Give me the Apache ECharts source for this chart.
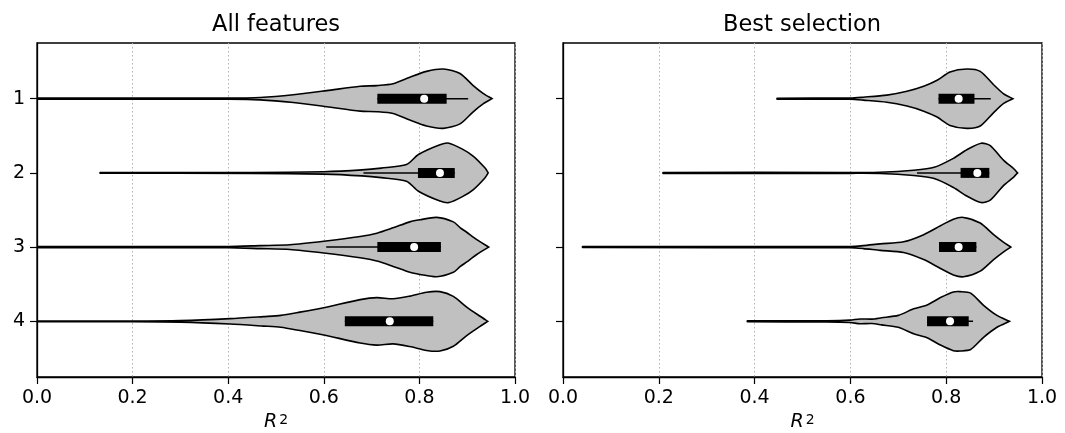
<!DOCTYPE html>
<html>
<head>
<meta charset="utf-8">
<script src="https://cdn.jsdelivr.net/npm/echarts@6/dist/echarts.min.js"></script>
<style>
  html, body { margin: 0; padding: 0; background: #fff; }
  #main { width: 1065px; height: 433px; }
</style>
</head>
<body>
<div id="main"></div>
<script>
// categories (one violin per row) and x ticks
var categories = [1, 2, 3, 4];
var xTicks = [0, 0.2, 0.4, 0.6, 0.8, 1.0];
var panelTitles = ['All features', 'Best selection'];

// violin outlines: [R2 value, relative half width]
var allFeatDensity = [
  [[-0.02,0.02],[0.40,0.02],[0.467,0.04],[0.536,0.13],[0.606,0.27],[0.676,0.42],[0.711,0.44],[0.745,0.5],[0.78,0.72],[0.815,0.92],[0.85,1.0],[0.885,0.85],[0.912,0.45],[0.934,0.17],[0.952,0]],
  [[0.132,0.01],[0.45,0.015],[0.60,0.04],[0.68,0.1],[0.72,0.16],[0.773,0.28],[0.798,0.62],[0.843,0.95],[0.862,1.0],[0.89,0.8],[0.913,0.56],[0.937,0.17],[0.944,0]],
  [[-0.02,0.02],[0.40,0.02],[0.467,0.05],[0.529,0.08],[0.6,0.2],[0.676,0.36],[0.711,0.47],[0.745,0.65],[0.78,0.85],[0.801,0.92],[0.836,1.0],[0.871,0.85],[0.885,0.66],[0.899,0.5],[0.92,0.25],[0.945,0]],
  [[-0.02,0.01],[0.2,0.01],[0.30,0.025],[0.404,0.09],[0.474,0.16],[0.51,0.2],[0.55,0.31],[0.60,0.46],[0.676,0.73],[0.711,0.80],[0.745,0.76],[0.78,0.85],[0.815,0.98],[0.843,1.0],[0.871,0.84],[0.899,0.48],[0.927,0.17],[0.943,0]]
];
var bestSelDensity = [
  [[0.447,0.015],[0.60,0.02],[0.627,0.05],[0.676,0.12],[0.718,0.25],[0.753,0.42],[0.781,0.62],[0.808,0.9],[0.843,1.0],[0.871,0.92],[0.899,0.47],[0.92,0.16],[0.939,0]],
  [[0.209,0.015],[0.60,0.015],[0.662,0.02],[0.732,0.09],[0.775,0.19],[0.815,0.49],[0.843,0.78],[0.873,1.0],[0.892,0.92],[0.92,0.42],[0.941,0.14],[0.949,0]],
  [[0.041,0.015],[0.60,0.02],[0.627,0.05],[0.662,0.11],[0.711,0.18],[0.753,0.42],[0.788,0.72],[0.815,0.94],[0.836,1.0],[0.871,0.81],[0.899,0.42],[0.92,0.16],[0.935,0]],
  [[0.385,0.015],[0.55,0.02],[0.599,0.04],[0.62,0.08],[0.645,0.075],[0.665,0.12],[0.70,0.2],[0.732,0.42],[0.76,0.55],[0.788,0.8],[0.815,0.99],[0.829,1.0],[0.851,0.95],[0.878,0.54],[0.906,0.2],[0.932,0]]
];

// inner box: quartiles, median, whisker ends
var allFeatQ1 = [0.712, 0.797, 0.712, 0.644];
var allFeatMedian = [0.810, 0.843, 0.789, 0.738];
var allFeatQ3 = [0.857, 0.874, 0.845, 0.829];
var allFeatWhiskLo = [0.712, 0.683, 0.605, 0.644];
var allFeatWhiskHi = [0.902, 0.874, 0.845, 0.829];

var bestSelQ1 = [0.784, 0.830, 0.785, 0.760];
var bestSelMedian = [0.826, 0.865, 0.826, 0.808];
var bestSelQ3 = [0.859, 0.890, 0.863, 0.847];
var bestSelWhiskLo = [0.784, 0.739, 0.785, 0.760];
var bestSelWhiskHi = [0.893, 0.890, 0.863, 0.856];

var chart = echarts.init(document.getElementById('main'));
var font = 'DejaVu Sans';
var halfMax = 0.4; // seaborn width 0.8

function violinSeries(idx, dens, q1, med, q3, lo, hi) {
  return {
    type: 'custom',
    xAxisIndex: idx,
    yAxisIndex: idx,
    clip: true,
    data: categories.map(function (c, i) { return [med[i], c]; }),
    renderItem: function (params, api) {
      var i = params.dataIndex;
      var cat = categories[i];
      var prof = dens[i];
      var pts = [];
      prof.forEach(function (p) { pts.push(api.coord([p[0], cat - halfMax * p[1]])); });
      prof.slice().reverse().forEach(function (p) { pts.push(api.coord([p[0], cat + halfMax * p[1]])); });
      var a = api.coord([q1[i], cat]);
      var b = api.coord([q3[i], cat]);
      var wl = api.coord([lo[i], cat]);
      var wh = api.coord([hi[i], cat]);
      var m = api.coord([med[i], cat]);
      return {
        type: 'group',
        children: [
          { type: 'polygon', shape: { points: pts, smooth: 0.25 },
            style: { fill: '#c0c0c0', stroke: '#000', lineWidth: 1.6 } },
          { type: 'line', shape: { x1: wl[0], y1: wl[1], x2: wh[0], y2: wh[1] },
            style: { stroke: '#000', lineWidth: 1.5 } },
          { type: 'rect', shape: { x: a[0], y: a[1] - 5, width: b[0] - a[0], height: 10 },
            style: { fill: '#000' } },
          { type: 'circle', shape: { cx: m[0], cy: m[1], r: 4 },
            style: { fill: '#fff' } }
        ]
      };
    }
  };
}

function xAx(idx) {
  return {
    gridIndex: idx, type: 'value', min: 0, max: 1, interval: 0.2,
    axisLine: { show: true, lineStyle: { color: '#000', width: 1.3 } },
    axisTick: { show: true, length: 7, lineStyle: { color: '#000', width: 1.2 } },
    axisLabel: { fontSize: 19, color: '#000', fontFamily: font, margin: 12,
      formatter: function (v) { return v.toFixed(1); } },
    splitLine: { show: true, lineStyle: { color: '#b0b0b0', type: [1.5, 2.5], width: 1 } },
    name: '{i|R}{s|2}', nameLocation: 'middle', nameGap: 33,
    nameTextStyle: { color: '#000', fontFamily: font, fontSize: 19,
      rich: { i: { fontStyle: 'italic', fontSize: 19, fontFamily: font, color: '#000' },
              s: { fontSize: 14, fontFamily: font, color: '#000', verticalAlign: 'top', padding: [0, 0, 0, 2] } } }
  };
}

function yAx(idx, showLabels) {
  return {
    gridIndex: idx, type: 'value', min: 0.25, max: 4.75, inverse: true,
    axisLine: { show: true, lineStyle: { color: '#000', width: 1.3 } },
    axisTick: { show: true, length: 7, customValues: categories, lineStyle: { color: '#000', width: 1.2 } },
    axisLabel: { show: showLabels, customValues: categories, fontSize: 19, color: '#000', fontFamily: font, margin: 12 },
    splitLine: { show: false }
  };
}

var option = {
  animation: false,
  backgroundColor: '#fff',
  title: [
    { text: panelTitles[0], left: 276, top: 14, textAlign: 'center', padding: 0,
      textStyle: { fontSize: 22.5, fontWeight: 'normal', fontFamily: font, color: '#000' } },
    { text: panelTitles[1], left: 802, top: 14, textAlign: 'center', padding: 0,
      textStyle: { fontSize: 22.5, fontWeight: 'normal', fontFamily: font, color: '#000' } }
  ],
  grid: [
    { left: 37, top: 43, width: 478, height: 334, show: true, borderColor: '#000', borderWidth: 1.3,
      outerBoundsMode: 'none', containLabel: false },
    { left: 563, top: 43, width: 479, height: 334, show: true, borderColor: '#000', borderWidth: 1.3,
      outerBoundsMode: 'none', containLabel: false }
  ],
  xAxis: [xAx(0), xAx(1)],
  yAxis: [yAx(0, true), yAx(1, false)],
  series: [
    violinSeries(0, allFeatDensity, allFeatQ1, allFeatMedian, allFeatQ3, allFeatWhiskLo, allFeatWhiskHi),
    violinSeries(1, bestSelDensity, bestSelQ1, bestSelMedian, bestSelQ3, bestSelWhiskLo, bestSelWhiskHi)
  ]
};
chart.setOption(option);
</script>
</body>
</html>
